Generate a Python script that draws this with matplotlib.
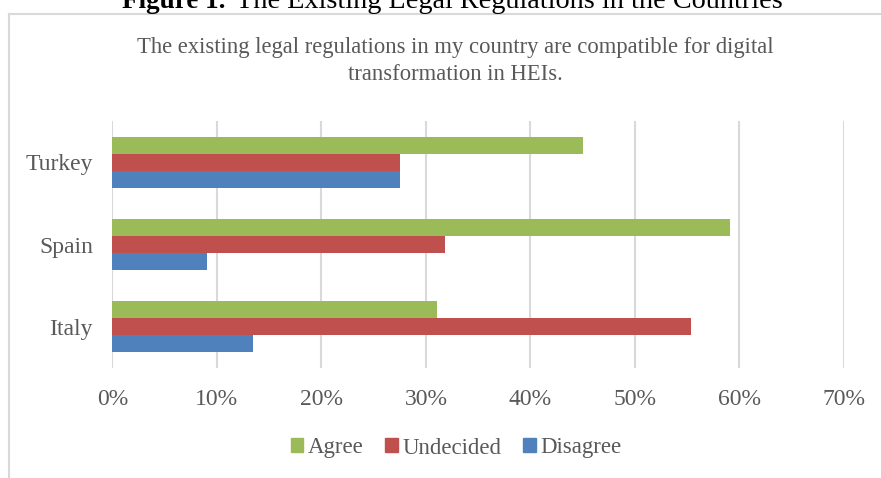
import numpy as np
import matplotlib
matplotlib.use("Agg")
import matplotlib.pyplot as plt
from matplotlib.lines import Line2D

countries = ["Italy", "Spain", "Turkey"]
agree = [31.1, 59.1, 45.0]
undecided = [55.4, 31.8, 27.5]
disagree = [13.5, 9.1, 27.5]
series_names = ["Agree", "Undecided", "Disagree"]
colors = ["#9BBB59", "#C0504D", "#4F81BD"]
xticks = [0, 10, 20, 30, 40, 50, 60, 70]

plt.rcParams["font.family"] = ["Liberation Serif", "DejaVu Serif"]
gray_text = "#595959"
grid_col = "#d9d9d9"

W, H = 881, 478
fig = plt.figure(figsize=(W / 100, H / 100), dpi=100)

# plot area (pixel positions)
left, right, top, bottom = 112.3, 844, 121, 368
ax = fig.add_axes([left / W, 1 - bottom / H, (right - left) / W, (bottom - top) / H])

y = np.arange(len(countries))
h = 0.207
for vals, off, col, name in zip([agree, undecided, disagree], [h, 0, -h], colors, series_names):
    ax.barh(y + off, vals, height=h, color=col, label=name, zorder=3)

ax.set_xlim(0, 70)
ax.set_ylim(-0.5, 2.5)
ax.set_xticks(xticks)
ax.set_xticklabels([f"{t}%" for t in xticks])
ax.set_yticks(y)
ax.set_yticklabels(countries)
ax.tick_params(length=0, labelsize=17, colors=gray_text)
ax.tick_params(axis="x", pad=15)
ax.tick_params(axis="y", pad=14)
ax.grid(axis="x", color=grid_col, linewidth=1.5, zorder=0)
for s in ax.spines.values():
    s.set_visible(False)

# chart title
fig.text(455 / W, 1 - 48 / H, "The existing legal regulations in my country are compatible for digital",
         ha="center", va="center", fontsize=16.3, color=gray_text)
fig.text(455 / W, 1 - 75 / H, "transformation in HEIs.",
         ha="center", va="center", fontsize=16.3, color=gray_text)

# legend
handles = [plt.Rectangle((0, 0), 1, 1, color=c) for c in colors]
fig.legend(handles, series_names, loc="center", bbox_to_anchor=(456 / W, 1 - 448 / H),
           ncol=3, frameon=False, fontsize=16.5, handlelength=0.55, handleheight=0.55,
           handletextpad=0.2, columnspacing=0.95, labelcolor=gray_text)

# figure caption cut off at the top of the image
fig.text(226 / W, 1 - 8 / H, "Figure 1.", ha="right", va="baseline", fontsize=19.5,
         fontweight="bold", color="black")
fig.text(236 / W, 1 - 8 / H, "The Existing Legal Regulations in the Countries", ha="left",
         va="baseline", fontsize=20.3, color="black")

# chart frame
fig.add_artist(Line2D([9 / W, 9 / W], [0, 1 - 14 / H], color=grid_col, linewidth=1.5))
fig.add_artist(Line2D([9 / W, 1], [1 - 14 / H, 1 - 14 / H], color=grid_col, linewidth=1.5))

fig.savefig("out.png", dpi=100)
